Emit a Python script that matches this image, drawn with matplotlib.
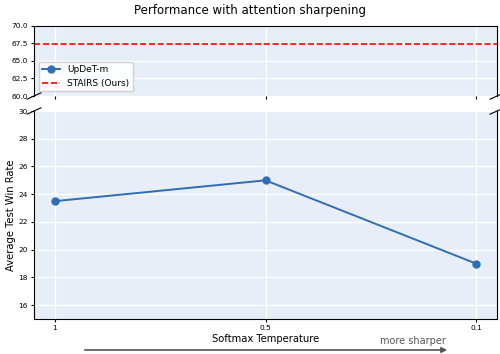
import numpy as np
import matplotlib.pyplot as plt
from matplotlib.patches import FancyArrowPatch

temps = ["1", "0.5", "0.1"]
updet = [23.5, 25.0, 19.0]
stairs = 67.4

bg = "#e7eef7"
fig = plt.figure(figsize=(5, 3.54), dpi=100)
ax_top = fig.add_axes([0.068, 0.7288, 0.926, 0.1978])
ax_bot = fig.add_axes([0.068, 0.0989, 0.926, 0.5875])

x = np.arange(len(temps))
for ax in (ax_top, ax_bot):
    ax.set_facecolor(bg)
    ax.grid(True, color="white", linewidth=1)
    ax.set_axisbelow(True)
    ax.plot(x, updet, "-o", color="#2f6db5", markersize=5, linewidth=1.4, label="UpDeT-m")
    ax.axhline(stairs, color="red", linestyle="--", linewidth=1.2, label="STAIRS (Ours)")
    ax.set_xlim(-0.1, 2.1)
    ax.set_xticks(x)
    ax.tick_params(labelsize=5.3, length=2.5, width=0.8, pad=2)

ax_top.set_ylim(60, 70)
ax_top.set_yticks([60, 62.5, 65, 67.5, 70])
ax_top.spines["bottom"].set_visible(False)
ax_top.tick_params(labelbottom=False)
ax_bot.set_ylim(15, 30)
ax_bot.set_yticks(range(16, 31, 2))
ax_bot.spines["top"].set_visible(False)
ax_bot.set_xticklabels(temps)
ax_bot.set_xlabel("Softmax Temperature", fontsize=7.2, labelpad=2)
ax_bot.set_ylabel("Average Test Win Rate", fontsize=7.2, labelpad=1.5)

ax_top.legend(loc="lower left", fontsize=6.5, framealpha=0.9)

# break marks
d = 0.015
kw = dict(color="k", clip_on=False, linewidth=0.8)
ax_top.plot((-d, +d), (-d * 3, +d * 3), transform=ax_top.transAxes, **kw)
ax_top.plot((1 - d, 1 + d), (-d * 3, +d * 3), transform=ax_top.transAxes, **kw)
ax_bot.plot((-d, +d), (1 - d, 1 + d), transform=ax_bot.transAxes, **kw)
ax_bot.plot((1 - d, 1 + d), (1 - d, 1 + d), transform=ax_bot.transAxes, **kw)

fig.suptitle("Performance with attention sharpening", fontsize=8.5, y=0.99)

fig.add_artist(FancyArrowPatch(
    (0.164, 0.0113), (0.9, 0.0113), transform=fig.transFigure,
    arrowstyle="-|>", mutation_scale=8, color="#555555", linewidth=1.2))
fig.text(0.826, 0.037, "more sharper", fontsize=7, color="#555555", ha="center", va="center")

fig.savefig("out.png", dpi=100)
